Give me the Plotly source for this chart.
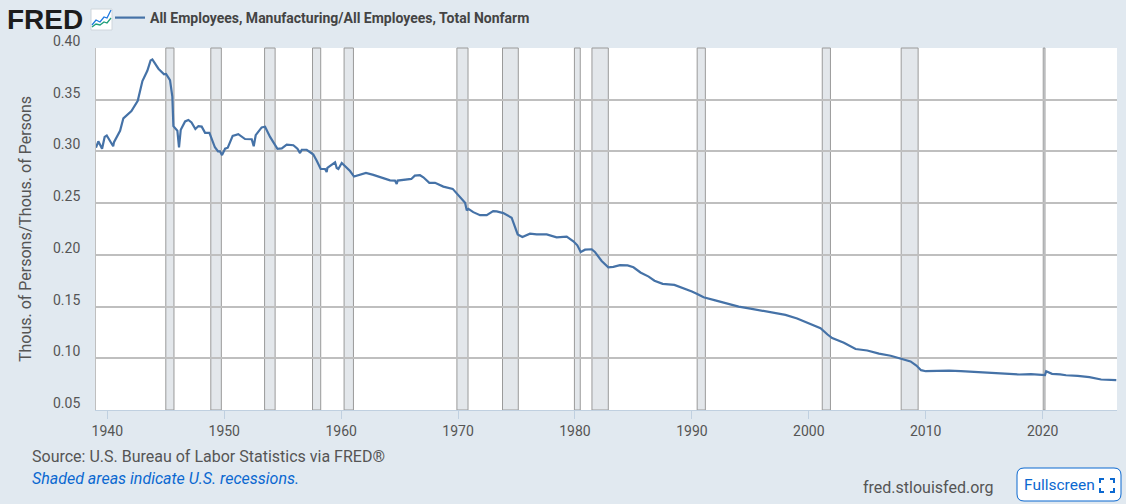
import plotly.graph_objects as go

# fractional years and ratio values
years = [
    1939.03, 1939.23, 1939.55, 1939.77, 1939.95, 1940.5, 1940.57, 1941.09, 1941.37, 1942.06,
    1942.6, 1943.0, 1943.42, 1943.7, 1943.85, 1944.37, 1944.85, 1945.02, 1945.36, 1945.56,
    1945.65, 1945.99, 1946.13, 1946.28, 1946.65, 1946.93, 1947.2, 1947.53, 1947.79, 1948.07,
    1948.36, 1948.73, 1949.2, 1949.47, 1949.64, 1949.81, 1950.07, 1950.3, 1950.72, 1951.2,
    1951.78, 1952.35, 1952.52, 1952.69, 1953.2, 1953.49, 1953.92, 1954.55, 1954.92, 1955.34,
    1955.91, 1956.26, 1956.48, 1956.63, 1957.05, 1957.62, 1957.91, 1958.25, 1958.62, 1958.76,
    1958.82, 1959.48, 1959.62, 1959.76, 1960.05, 1960.47, 1960.76, 1961.1, 1961.6, 1962.12,
    1962.75, 1963.46, 1964.18, 1964.6, 1964.75, 1964.83, 1965.46, 1966.0, 1966.3, 1966.74,
    1967.03, 1967.54, 1968.03, 1968.74, 1969.54, 1970.02, 1970.6, 1970.74, 1970.88, 1971.3,
    1971.88, 1972.45, 1973.0, 1973.3, 1973.87, 1974.58, 1974.87, 1975.1, 1975.5, 1976.15,
    1976.72, 1977.58, 1978.43, 1979.29, 1979.86, 1980.2, 1980.49, 1980.86, 1981.43, 1981.7,
    1982.28, 1982.85, 1983.28, 1983.85, 1984.5, 1985.0, 1985.6, 1986.3, 1986.8, 1987.5,
    1988.5, 1989.5, 1990.0, 1990.5, 1991.0, 1992.0, 1993.0, 1994.0, 1995.0, 1996.0,
    1997.0, 1998.0, 1999.0, 2000.0, 2001.0, 2001.6, 2002.0, 2003.0, 2004.0, 2005.0,
    2006.0, 2007.0, 2008.0, 2008.7, 2009.2, 2009.6, 2010.0, 2011.0, 2012.0, 2013.0,
    2014.0, 2015.0, 2016.0, 2017.0, 2018.0, 2019.0, 2020.1, 2020.2, 2020.3, 2020.8,
    2021.5, 2022.0, 2023.0, 2024.0, 2025.0, 2026.3,
]
ratio = [
    0.3036, 0.3098, 0.3026, 0.314, 0.3154, 0.305, 0.309, 0.32, 0.332, 0.339,
    0.349, 0.368, 0.378, 0.388, 0.389, 0.38, 0.3746, 0.375, 0.369, 0.353,
    0.3245, 0.32, 0.304, 0.321, 0.329, 0.3304, 0.328, 0.3216, 0.3245, 0.324,
    0.318, 0.318, 0.304, 0.3, 0.3, 0.2964, 0.3026, 0.3036, 0.315, 0.3167,
    0.312, 0.3118, 0.305, 0.3157, 0.3232, 0.3239, 0.314, 0.3026, 0.303, 0.3065,
    0.306, 0.3026, 0.2984, 0.3016, 0.3016, 0.297, 0.291, 0.283, 0.283, 0.28,
    0.284, 0.2895, 0.284, 0.283, 0.2888, 0.284, 0.281, 0.2757, 0.2773, 0.2792,
    0.2773, 0.275, 0.272, 0.2718, 0.2686, 0.2718, 0.2728, 0.2734, 0.2766, 0.277,
    0.275, 0.2696, 0.2696, 0.266, 0.2638, 0.2574, 0.2503, 0.243, 0.2445, 0.2413,
    0.2384, 0.2384, 0.2423, 0.242, 0.2404, 0.2359, 0.2269, 0.2198, 0.2173, 0.2205,
    0.2198, 0.2198, 0.217, 0.2176, 0.2131, 0.2092, 0.2028, 0.205, 0.2054, 0.2028,
    0.1941, 0.188, 0.1884, 0.19, 0.1898, 0.188, 0.183, 0.179, 0.175, 0.172,
    0.171, 0.167, 0.1645, 0.162, 0.159, 0.156, 0.153, 0.15, 0.148, 0.146,
    0.144, 0.142, 0.1385, 0.1335, 0.129, 0.123, 0.1195, 0.115, 0.109, 0.1075,
    0.1045, 0.1025, 0.0995, 0.097, 0.093, 0.0885, 0.0875, 0.0878, 0.0881, 0.0875,
    0.0868, 0.0862, 0.0852, 0.0843, 0.0843, 0.0846, 0.0836, 0.0838, 0.0875, 0.085,
    0.0845, 0.0836, 0.083, 0.0817, 0.0795, 0.0788,
]

rec_start = [1945.0, 1948.85, 1953.45, 1957.55, 1960.25, 1969.9, 1973.8, 1979.95, 1981.45, 1990.45, 2001.15, 2007.9, 2020.05]
rec_end = [1945.7, 1949.75, 1954.35, 1958.25, 1961.05, 1970.85, 1975.15, 1980.45, 1982.85, 1991.15, 2001.85, 2009.35, 2020.2]

y_ticks = [0.05, 0.10, 0.15, 0.20, 0.25, 0.30, 0.35, 0.40]
x_ticks = [1940, 1950, 1960, 1970, 1980, 1990, 2000, 2010, 2020]

series_name = 'All Employees, Manufacturing/All Employees, Total Nonfarm'
y_title = 'Thous. of Persons/Thous. of Persons'

BG = '#e1e9f0'
GREY = '#555555'
BLUE_LINK = '#0b68d0'
W, H = 1126, 504
LEFT, RIGHT, TOP, BOTTOM = 96, 1117, 48, 410


# page pixels to paper coordinates, for the chrome around the plot
def px(x):
    return (x - LEFT) / (RIGHT - LEFT)


def py(y):
    return (BOTTOM - y) / (BOTTOM - TOP)


def to_path(points):
    return 'M' + ' L'.join(f'{px(x)},{py(y)}' for x, y in points)


def note(x, y, text, size, color=GREY, anchor='left', family='Roboto'):
    return dict(xref='paper', yref='paper', x=px(x), y=py(y), text=text, showarrow=False,
                xanchor=anchor, yanchor='middle', font=dict(family=family, size=size, color=color))


fig = go.Figure()
fig.add_trace(go.Scatter(
    x=years, y=ratio,
    mode='lines',
    name='<b>' + series_name + '</b>',
    line=dict(color='#4572a7', width=2.2),
    hoverinfo='x+y'))

# recession bars sit under the gridlines
shapes = []
for start, end in zip(rec_start, rec_end):
    shapes.append(dict(type='rect', layer='below', xref='x', yref='paper', x0=start, x1=end, y0=0, y1=1,
                       fillcolor='#e3e7eb', line=dict(color='#9a9a9a', width=1)))

# little chart icon next to the logo
shapes.append(dict(type='rect', xref='paper', yref='paper', x0=px(91), x1=px(112), y0=py(30), y1=py(9),
                   fillcolor='#ffffff', line=dict(color='#cfd6dc', width=1)))
shapes.append(dict(type='path', xref='paper', yref='paper', line=dict(color='#1f7ae0', width=1.3),
                   path=to_path([(92, 25), (96, 20), (100, 22), (104, 17), (107, 18), (111, 10)])))
shapes.append(dict(type='path', xref='paper', yref='paper', line=dict(color='#1f9e7a', width=1.3),
                   path=to_path([(92, 27), (96, 24), (100, 25), (104, 22), (107, 23), (111, 18)])))

# Fullscreen button and its corner marks
x0, x1, y0, y1, r = 1017, 1121, 468, 501, 7
shapes.append(dict(type='path', xref='paper', yref='paper', fillcolor='#ffffff',
                   line=dict(color=BLUE_LINK, width=1),
                   path=(f'M{px(x0 + r)},{py(y0)} L{px(x1 - r)},{py(y0)} Q{px(x1)},{py(y0)} {px(x1)},{py(y0 + r)} '
                         f'L{px(x1)},{py(y1 - r)} Q{px(x1)},{py(y1)} {px(x1 - r)},{py(y1)} '
                         f'L{px(x0 + r)},{py(y1)} Q{px(x0)},{py(y1)} {px(x0)},{py(y1 - r)} '
                         f'L{px(x0)},{py(y0 + r)} Q{px(x0)},{py(y0)} {px(x0 + r)},{py(y0)} Z')))
for corner in ([(1100, 483), (1100, 479), (1104, 479)], [(1110, 479), (1114, 479), (1114, 483)],
               [(1100, 488), (1100, 492), (1104, 492)], [(1110, 492), (1114, 492), (1114, 488)]):
    shapes.append(dict(type='path', xref='paper', yref='paper', line=dict(color=BLUE_LINK, width=2),
                       path=to_path(corner)))

annotations = [
    note(5, 19, '<b>FRED</b>', 28, color='#1c1c1c', family='Liberation Sans'),
    note(30, 456, 'Source: U.S. Bureau of Labor Statistics via FRED®', 16),
    note(30, 479, '<i>Shaded areas indicate U.S. recessions.</i>', 16, color=BLUE_LINK),
    note(861, 487, 'fred.stlouisfed.org', 16),
    note(1022, 485, 'Fullscreen', 15.5, color=BLUE_LINK),
]

# the y labels ride just above their gridlines
for t in y_ticks:
    annotations.append(dict(xref='paper', yref='y', x=px(82), y=t, yshift=7, text=f'{t:.2f}', showarrow=False,
                            xanchor='right', yanchor='middle', font=dict(family='Roboto', size=14, color=GREY)))

fig.update_layout(
    width=W, height=H,
    margin=dict(l=LEFT, r=W - RIGHT, t=TOP, b=H - BOTTOM, autoexpand=False),
    paper_bgcolor=BG,
    plot_bgcolor='#ffffff',
    font=dict(family='Roboto', color=GREY),
    showlegend=True,
    legend=dict(x=px(110), y=py(18), xanchor='left', yanchor='middle', bgcolor='rgba(0,0,0,0)',
                font=dict(family='Roboto', size=14, color='#444444'), itemwidth=30),
    shapes=shapes,
    annotations=annotations,
    xaxis=dict(
        range=[1939.03, 2026.36],
        tickmode='array', tickvals=x_ticks, ticktext=[str(t) for t in x_ticks],
        ticks='outside', ticklen=8, tickcolor='#c0d0e0', tickwidth=1,
        showgrid=False, zeroline=False,
        showline=True, linecolor='#c0d0e0', linewidth=1,
        tickfont=dict(family='Roboto', size=14, color=GREY)),
    yaxis=dict(
        range=[0.05, 0.40],
        tickmode='array', tickvals=y_ticks,
        ticks='', showticklabels=False,
        showgrid=True, gridcolor='#bfbfbf', gridwidth=2, zeroline=False,
        showline=True, linecolor='#bfbfbf', linewidth=1,
        title=dict(text=y_title, font=dict(family='Roboto', size=16, color=GREY), standoff=59)),
)

fig.write_html('out.html', config={'displayModeBar': False},
               post_script="document.body.style.margin='0';document.body.style.overflow='hidden';")
